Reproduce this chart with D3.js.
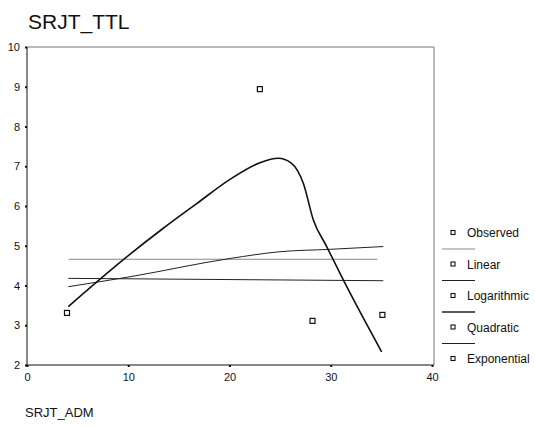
<!DOCTYPE html>
<html>
<head>
<meta charset="utf-8">
<script src="https://cdn.jsdelivr.net/npm/d3@7"></script>
<style>
  body { margin: 0; background: #fff; }
  text { font-family: "Liberation Sans", Arial, sans-serif; fill: #111; }
</style>
</head>
<body>
<svg id="chart" width="535" height="428"></svg>
<script>
(() => {
    // observed points (SRJT_ADM, SRJT_TTL)
    const observed = [
        {x: 3.95, y: 3.31},
        {x: 23.0, y: 8.94},
        {x: 28.2, y: 3.11},
        {x: 35.1, y: 3.26},
    ];

    // fitted curves
    const linearFit = [
        {x: 4.1, y: 4.66},
        {x: 34.6, y: 4.66},
    ];
    const logFit = [
        {x: 4.08, y: 3.97},
        {x: 10.17, y: 4.22},
        {x: 20.05, y: 4.68},
        {x: 24.99, y: 4.85},
        {x: 29.93, y: 4.91},
        {x: 35.19, y: 4.98},
    ];
    const quadFit = [
        {x: 4.08, y: 3.47},
        {x: 9.85, y: 4.72},
        {x: 13.46, y: 5.44},
        {x: 16.76, y: 6.06},
        {x: 20.05, y: 6.67},
        {x: 23.01, y: 7.09},
        {x: 24.82, y: 7.20},
        {x: 26.10, y: 7.08},
        {x: 27.29, y: 6.57},
        {x: 28.28, y: 5.65},
        {x: 29.60, y: 4.98},
        {x: 31.24, y: 4.14},
        {x: 35.03, y: 2.33},
    ];
    const expFit = [
        {x: 4.08, y: 4.18},
        {x: 35.19, y: 4.12},
    ];

    const xTicks = [0, 10, 20, 30, 40];
    const yTicks = [2, 3, 4, 5, 6, 7, 8, 9, 10];
    const legendLabels = ["Observed", "Linear", "Logarithmic", "Quadratic", "Exponential"];

    const svg = d3.select("svg#chart");

    const xScale = d3.scaleLinear().domain([0, 40]).range([27, 432]);
    const yScale = d3.scaleLinear().domain([2, 10]).range([365, 47]);

    // title and axis name
    svg.append("text")
        .attr("x", 28)
        .attr("y", 29)
        .style("font-size", "21px")
        .text("SRJT_TTL");

    svg.append("text")
        .attr("x", 25)
        .attr("y", 417)
        .style("font-size", "13px")
        .text("SRJT_ADM");

    // frame (top and right)
    svg.append("path")
        .attr("d", `M${xScale(0)},${yScale(10)}H${xScale(40) + 2}V${yScale(2)}`)
        .attr("fill", "none")
        .attr("stroke", "#777")
        .attr("stroke-width", 1);

    // axes
    const xAxis = svg.append("g")
        .attr("transform", `translate(0, ${yScale(2)})`)
        .call(d3.axisBottom(xScale).tickValues(xTicks).tickSize(2).tickPadding(6));
    const yAxis = svg.append("g")
        .attr("transform", `translate(${xScale(0)}, 0)`)
        .call(d3.axisLeft(yScale).tickValues(yTicks).tickSize(2).tickPadding(5));

    [xAxis, yAxis].forEach(ax => {
        ax.select(".domain").attr("stroke", "#111");
        ax.selectAll(".tick line").attr("stroke", "#111").attr("stroke-width", 2);
        ax.selectAll("text")
            .style("font-family", "'Liberation Sans', Arial, sans-serif")
            .style("font-size", "11px")
            .attr("fill", "#111");
    });
    xAxis.select(".domain").attr("d", `M${xScale(0)},0H${xScale(40) + 2}`);
    yAxis.select(".domain").attr("d", `M0,${yScale(2)}V${yScale(10)}`);

    const line = d3.line()
        .x(d => xScale(d.x))
        .y(d => yScale(d.y));

    // fitted lines
    svg.append("path")
        .datum(linearFit)
        .attr("d", line)
        .attr("fill", "none")
        .attr("stroke", "#888")
        .attr("stroke-width", 1);

    svg.append("path")
        .datum(expFit)
        .attr("d", line)
        .attr("fill", "none")
        .attr("stroke", "#222")
        .attr("stroke-width", 1);

    svg.append("path")
        .datum(logFit)
        .attr("d", line.curve(d3.curveMonotoneX))
        .attr("fill", "none")
        .attr("stroke", "#222")
        .attr("stroke-width", 1);

    svg.append("path")
        .datum(quadFit)
        .attr("d", line.curve(d3.curveMonotoneX))
        .attr("fill", "none")
        .attr("stroke", "#111")
        .attr("stroke-width", 1.6);

    // observed markers
    svg.append("g")
        .selectAll("rect")
        .data(observed)
        .enter()
        .append("rect")
        .attr("x", d => xScale(d.x) - 2.5)
        .attr("y", d => yScale(d.y) - 2.5)
        .attr("width", 5)
        .attr("height", 5)
        .attr("fill", "#fff")
        .attr("stroke", "#111")
        .attr("stroke-width", 1.2);

    // legend
    const legendY = d3.scalePoint()
        .domain(legendLabels)
        .range([233, 359]);

    const legend = svg.append("g");
    const items = legend.selectAll("g")
        .data(legendLabels)
        .enter()
        .append("g")
        .attr("transform", d => `translate(0, ${legendY(d)})`);

    items.append("rect")
        .attr("x", 451)
        .attr("y", -2.5)
        .attr("width", 4)
        .attr("height", 4)
        .attr("fill", "#fff")
        .attr("stroke", "#111")
        .attr("stroke-width", 1.1);

    items.append("text")
        .attr("x", 467)
        .attr("y", 4)
        .style("font-size", "12px")
        .text(d => d);

    // separator line samples between the entries
    legend.selectAll("line")
        .data(legendLabels.slice(1))
        .enter()
        .append("line")
        .attr("x1", 442)
        .attr("x2", 475)
        .attr("y1", d => legendY(d) - 15.5)
        .attr("y2", d => legendY(d) - 15.5)
        .attr("stroke", (d, i) => i === 0 ? "#888" : "#222")
        .attr("stroke-width", (d, i) => i === 2 ? 1.4 : 1);
})();
</script>
</body>
</html>
